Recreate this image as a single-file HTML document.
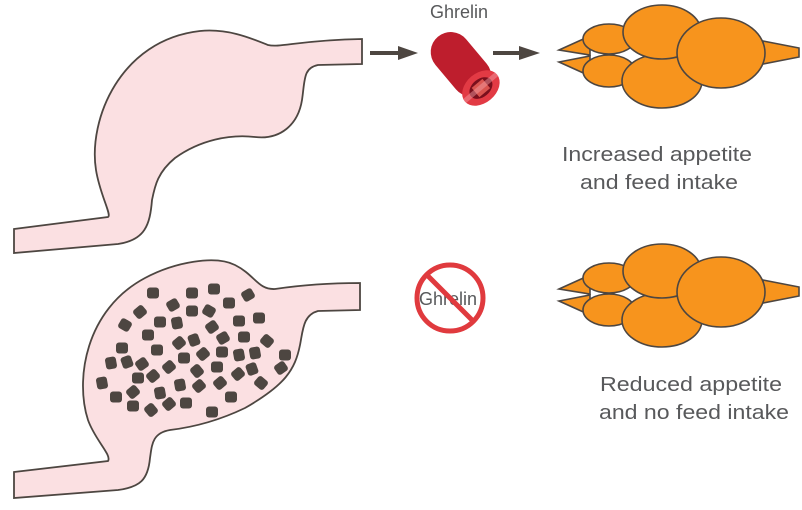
<!DOCTYPE html>
<html><head><meta charset="utf-8"><style>
html,body{margin:0;padding:0;background:#fff;width:802px;height:510px;overflow:hidden}
svg text{font-family:"Liberation Sans",sans-serif;fill:#58595b}
</style></head><body>
<svg width="802" height="510" viewBox="0 0 802 510" xmlns="http://www.w3.org/2000/svg">
<defs>
<g id="brain" stroke="#4d4641" stroke-width="1.6" fill="#f7941d">
  <polygon points="763,41 799,48 799,57 763,64"/>
  <polygon points="559,50 590,36 590,55"/>
  <polygon points="559,62 590,56 590,76"/>
  <ellipse cx="609" cy="39" rx="26" ry="15"/>
  <ellipse cx="609" cy="71" rx="26" ry="16"/>
  <ellipse cx="662" cy="81" rx="40" ry="27"/>
  <ellipse cx="662" cy="32" rx="39" ry="27"/>
  <ellipse cx="721" cy="53" rx="44" ry="35"/>
</g>
<rect id="p" x="-6" y="-5.5" width="12" height="11" rx="3" fill="#4d4641"/>
</defs>

<path d="M14,229 L108,217 C112,215 100,195 96,170 C88,120 120,40 200,31 C230,28 255,40 268,45 C280,48 300,40 362,39 L362,64 L318,65 C303,68 305,80 302,100 C298,125 280,140 255,137 C230,134 200,140 175,158 C158,172 155,185 152,200 C150,225 145,240 118,244 L14,253 Z" fill="#fbe0e2" stroke="#4d4641" stroke-width="1.8"/>

<path d="M14,472 L108,461 C112,455 95,440 88,420 C75,380 85,310 145,278 C175,262 215,255 235,265 C255,275 258,290 275,289 C295,286 320,283 360,283 L360,310 L318,311 C303,315 303,330 300,345 C295,370 285,385 245,408 C220,420 195,427 170,430 C152,433 152,445 150,458 C148,480 140,487 118,490 L14,498 Z" fill="#fbe0e2" stroke="#4d4641" stroke-width="1.8"/>

<g>
<use href="#p" x="153" y="293"/><use href="#p" x="192" y="293"/><use href="#p" x="214" y="289"/><use href="#p" x="248" y="295" transform="rotate(-30 248 295)"/>
<use href="#p" x="173" y="305" transform="rotate(-30 173 305)"/><use href="#p" x="140" y="312" transform="rotate(-40 140 312)"/><use href="#p" x="192" y="311"/><use href="#p" x="209" y="311" transform="rotate(30 209 311)"/>
<use href="#p" x="229" y="303"/><use href="#p" x="125" y="325" transform="rotate(30 125 325)"/><use href="#p" x="160" y="322"/><use href="#p" x="177" y="323" transform="rotate(80 177 323)"/>
<use href="#p" x="212" y="327" transform="rotate(-35 212 327)"/><use href="#p" x="239" y="321"/><use href="#p" x="259" y="318"/><use href="#p" x="148" y="335"/>
<use href="#p" x="179" y="343" transform="rotate(-40 179 343)"/><use href="#p" x="194" y="340" transform="rotate(70 194 340)"/><use href="#p" x="223" y="338" transform="rotate(-30 223 338)"/><use href="#p" x="244" y="337"/>
<use href="#p" x="267" y="341" transform="rotate(40 267 341)"/><use href="#p" x="122" y="348"/><use href="#p" x="157" y="350"/><use href="#p" x="184" y="358"/>
<use href="#p" x="203" y="354" transform="rotate(-40 203 354)"/><use href="#p" x="222" y="352"/><use href="#p" x="239" y="355" transform="rotate(80 239 355)"/><use href="#p" x="255" y="353" transform="rotate(80 255 353)"/>
<use href="#p" x="285" y="355"/><use href="#p" x="111" y="363" transform="rotate(80 111 363)"/><use href="#p" x="127" y="362" transform="rotate(70 127 362)"/><use href="#p" x="142" y="364" transform="rotate(-35 142 364)"/>
<use href="#p" x="169" y="367" transform="rotate(-40 169 367)"/><use href="#p" x="197" y="371" transform="rotate(50 197 371)"/><use href="#p" x="217" y="367"/><use href="#p" x="252" y="369" transform="rotate(70 252 369)"/>
<use href="#p" x="281" y="368" transform="rotate(-35 281 368)"/><use href="#p" x="138" y="378"/><use href="#p" x="153" y="376" transform="rotate(-40 153 376)"/><use href="#p" x="238" y="374" transform="rotate(-40 238 374)"/>
<use href="#p" x="102" y="383" transform="rotate(80 102 383)"/><use href="#p" x="180" y="385" transform="rotate(80 180 385)"/><use href="#p" x="199" y="386" transform="rotate(-40 199 386)"/><use href="#p" x="220" y="383" transform="rotate(-40 220 383)"/>
<use href="#p" x="261" y="383" transform="rotate(40 261 383)"/><use href="#p" x="133" y="392" transform="rotate(-40 133 392)"/><use href="#p" x="160" y="393" transform="rotate(80 160 393)"/><use href="#p" x="116" y="397"/>
<use href="#p" x="231" y="397"/><use href="#p" x="133" y="406"/><use href="#p" x="151" y="410" transform="rotate(50 151 410)"/><use href="#p" x="169" y="404" transform="rotate(-40 169 404)"/>
<use href="#p" x="186" y="403"/><use href="#p" x="212" y="412"/>
</g>

<g fill="#4d4641">
<rect x="370" y="51" width="30" height="4"/><polygon points="398,46 418,53 398,60"/>
<rect x="493" y="51" width="28" height="4"/><polygon points="519,46 540,53 519,60"/>
</g>

<text x="459" y="18" font-size="18" text-anchor="middle">Ghrelin</text>
<g transform="rotate(-40 470 75)">
  <rect x="450" y="25" width="40" height="72" rx="20" fill="#be1e2d"/>
  <ellipse cx="470" cy="92" rx="21" ry="15" fill="#e23a44"/>
  <ellipse cx="470" cy="92" rx="13" ry="9" fill="#7a0f1c"/>
  <rect x="463" y="86" width="14" height="12" fill="#d9544f"/>
  <rect x="449" y="89" width="42" height="5" fill="#f4a5ab" opacity="0.45"/>
</g>

<use href="#brain"/>
<use href="#brain" y="239"/>

<text x="657" y="161" font-size="20" text-anchor="middle" textLength="190" lengthAdjust="spacingAndGlyphs">Increased appetite</text>
<text x="659" y="189" font-size="20" text-anchor="middle" textLength="158" lengthAdjust="spacingAndGlyphs">and feed intake</text>
<text x="691" y="391" font-size="20" text-anchor="middle" textLength="182" lengthAdjust="spacingAndGlyphs">Reduced appetite</text>
<text x="694" y="419" font-size="20" text-anchor="middle" textLength="190" lengthAdjust="spacingAndGlyphs">and no feed intake</text>

<text x="448" y="305" font-size="18" text-anchor="middle">Ghrelin</text>
<circle cx="450" cy="298" r="33" fill="none" stroke="#e03a3e" stroke-width="5"/>
<line x1="427" y1="275" x2="473" y2="321" stroke="#e03a3e" stroke-width="5"/>
</svg>
</body></html>
